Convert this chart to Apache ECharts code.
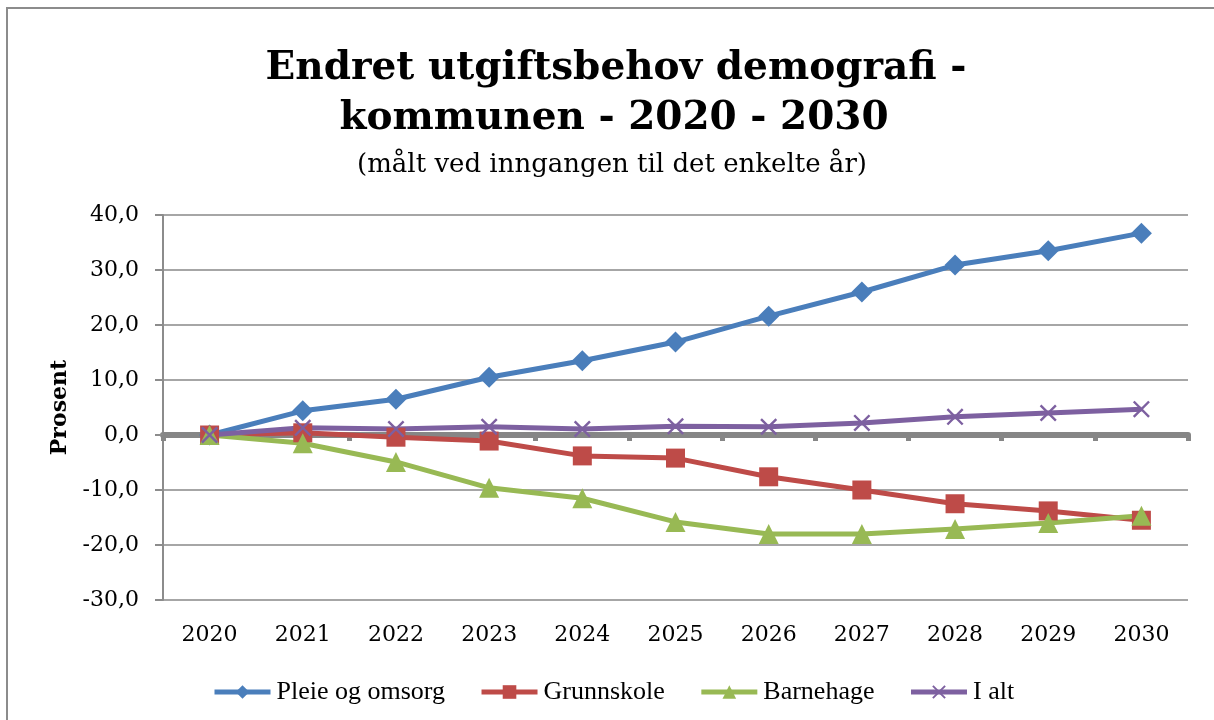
<!DOCTYPE html>
<html>
<head>
<meta charset="utf-8">
<script src="https://cdn.jsdelivr.net/npm/echarts@6/dist/echarts.min.js"></script>
<style>
  html, body { margin: 0; padding: 0; background: #fff; }
  #main { width: 1214px; height: 720px; }
</style>
</head>
<body>
<div id="main"></div>
<script>
// år
const years = ["2020", "2021", "2022", "2023", "2024", "2025", "2026", "2027", "2028", "2029", "2030"];

// prosentvis endring
const pleie = [0, 4.4, 6.5, 10.5, 13.5, 16.9, 21.6, 26.0, 30.9, 33.5, 36.7];
const grunnskole = [0, 0.4, -0.4, -1.1, -3.8, -4.2, -7.6, -10.0, -12.5, -13.8, -15.5];
const barnehage = [0, -1.5, -4.9, -9.6, -11.5, -15.8, -18.0, -18.0, -17.1, -16.0, -14.7];
const iAlt = [0, 1.3, 1.1, 1.5, 1.1, 1.6, 1.5, 2.2, 3.3, 4.0, 4.7];

const serif = "DejaVu Serif";
const crossPath = "path://M0,1L1,0L10,9L9,10ZM9,0L10,1L1,10L0,9Z";

function makeSeries(name, data, color, symbol, size) {
  return {
    name: name,
    type: "line",
    data: data,
    symbol: symbol,
    symbolSize: size,
    showAllSymbol: true,
    lineStyle: { color: color, width: 5 },
    itemStyle: { color: color },
    emphasis: { disabled: true },
  };
}

const option = {
  animation: false,
  graphic: [
    {
      type: "rect",
      shape: { x: 7, y: 8, width: 1220, height: 730 },
      style: { fill: "none", stroke: "#8c8c8c", lineWidth: 2 },
    },
    {
      type: "text",
      x: 616,
      y: 69,
      style: {
        text: "Endret utgiftsbehov demografi -",
        font: "bold 39px " + serif,
        fill: "#000",
        align: "center",
        verticalAlign: "middle",
      },
    },
    {
      type: "text",
      x: 614,
      y: 119,
      style: {
        text: "kommunen - 2020 - 2030",
        font: "bold 39px " + serif,
        fill: "#000",
        align: "center",
        verticalAlign: "middle",
      },
    },
    {
      type: "text",
      x: 612,
      y: 165,
      style: {
        text: "(målt ved inngangen til det enkelte år)",
        font: "26px " + serif,
        fill: "#000",
        align: "center",
        verticalAlign: "middle",
      },
    },
  ],
  legend: {
    top: 674,
    left: 207,
    itemWidth: 56,
    itemHeight: 17,
    itemGap: 34,
    lineStyle: { width: 5 },
    textStyle: { fontFamily: "Liberation Serif", fontSize: 26, color: "#000", padding: [0, 0, 0, 1] },
    data: ["Pleie og omsorg", "Grunnskole", "Barnehage", "I alt"],
  },
  grid: { left: 163, right: 26, top: 215, bottom: 120 },
  xAxis: {
    type: "category",
    data: years,
    boundaryGap: true,
    axisLine: { onZero: true, lineStyle: { color: "#868686", width: 6 } },
    axisTick: { show: true, length: 6, lineStyle: { color: "#868686", width: 5 } },
    axisLabel: {
      fontFamily: serif,
      fontSize: 22,
      color: "#000",
      margin: 24,
    },
  },
  yAxis: {
    type: "value",
    min: -30,
    max: 40,
    interval: 10,
    name: "Prosent",
    nameLocation: "middle",
    nameGap: 92,
    nameRotate: 90,
    nameTextStyle: { fontFamily: serif, fontWeight: "bold", fontSize: 22, color: "#000" },
    axisLine: { show: true, lineStyle: { color: "#8c8c8c", width: 2 } },
    axisTick: { show: true, length: 8, lineStyle: { color: "#8c8c8c", width: 2 } },
    axisLabel: {
      fontFamily: serif,
      fontSize: 22,
      color: "#000",
      margin: 24,
      formatter: function (v) { return v.toFixed(1).replace(".", ","); },
    },
    splitLine: { show: true, lineStyle: { color: "#a6a6a6", width: 2 } },
  },
  series: [
    makeSeries("Pleie og omsorg", pleie, "#4a7ebb", "diamond", 21),
    makeSeries("Grunnskole", grunnskole, "#be4b48", "rect", 19),
    makeSeries("Barnehage", barnehage, "#98b954", "triangle", 20),
    makeSeries("I alt", iAlt, "#7d60a0", crossPath, 17),
  ],
};

const myChart = echarts.init(document.getElementById("main"));
myChart.setOption(option);
</script>
</body>
</html>
